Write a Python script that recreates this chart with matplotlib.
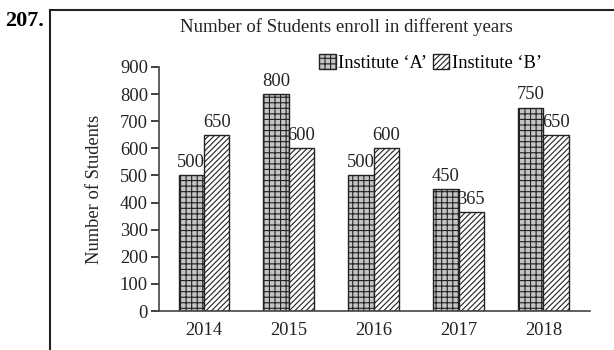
import matplotlib
matplotlib.use("Agg")
import matplotlib.pyplot as plt
from matplotlib.lines import Line2D
import numpy as np

years = ["2014", "2015", "2016", "2017", "2018"]
inst_a = [500, 800, 500, 450, 750]
inst_b = [650, 600, 600, 365, 650]
yticks = [0, 100, 200, 300, 400, 500, 600, 700, 800, 900]

plt.rcParams['font.family'] = ['Liberation Serif', 'DejaVu Serif']
plt.rcParams['hatch.linewidth'] = 0.8

fig = plt.figure(figsize=(6.14, 3.5), dpi=100)
ax = fig.add_axes([0.259, 0.1114, 0.702, 0.6972])

x = np.arange(len(years))
w = 0.3
fs = 13.3
ba = ax.bar(x - w / 2, inst_a, w, facecolor='#c4c4c4', edgecolor='#222222',
            hatch='+++', linewidth=1.0, label='Institute \u2018A\u2019')
bb = ax.bar(x + w / 2, inst_b, w, facecolor='white', edgecolor='#222222',
            hatch='//////', linewidth=1.0, label='Institute \u2018B\u2019')

for rects, vals in ((ba, inst_a), (bb, inst_b)):
    for r, v in zip(rects, vals):
        ax.annotate(str(v), (r.get_x() + r.get_width() / 2, v),
                    xytext=(0, 3), textcoords='offset points',
                    ha='center', va='bottom', fontsize=fs, color='#222222')

ax.set_xlim(-0.53, 4.55)
ax.set_ylim(0, 900)
ax.set_yticks(yticks)
ax.set_xticks(x)
ax.set_xticklabels(years)
ax.tick_params(axis='both', labelsize=fs, colors='#222222', width=1.2)
ax.tick_params(axis='y', length=6, pad=2)
ax.tick_params(axis='x', length=0, pad=8)
for s in ('top', 'right'):
    ax.spines[s].set_visible(False)
for s in ('left', 'bottom'):
    ax.spines[s].set_linewidth(1.2)
    ax.spines[s].set_color('#444444')
ax.set_ylabel('Number of Students', fontsize=fs, color='#222222', labelpad=12)

ax.legend(loc='center', bbox_to_anchor=(0.63, 1.016), ncol=2, frameon=False,
          fontsize=fs, handlelength=0.9, handleheight=0.9, handletextpad=0.15,
          columnspacing=0.3, borderpad=0)

fig.text(0.564, 0.923, 'Number of Students enroll in different years',
         ha='center', va='center', fontsize=13.5, color='#222222')
fig.text(0.008, 0.94, '207.', ha='left', va='center', fontsize=16,
         fontweight='bold', color='black')

fig.add_artist(Line2D([0.081, 0.081], [0.0, 0.972], transform=fig.transFigure,
                      color='#222222', linewidth=1.5))
fig.add_artist(Line2D([0.081, 1.0], [0.972, 0.972], transform=fig.transFigure,
                      color='#222222', linewidth=1.5))

fig.savefig('out.png', dpi=100)
